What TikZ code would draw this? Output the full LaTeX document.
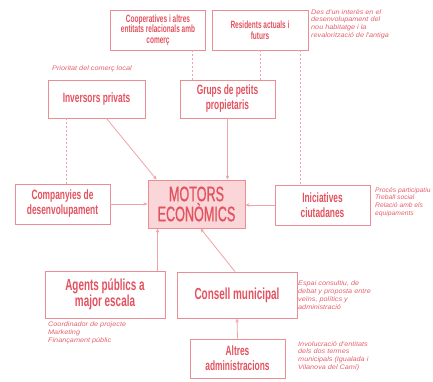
\documentclass[tikz,border=0pt]{standalone}
\usepackage{fontspec}
\setmainfont{Liberation Sans}
\newfontfamily\condf[FakeStretch=0.62]{Liberation Sans}
\newfontfamily\condm[FakeStretch=0.6,FakeBold=0.8]{Liberation Sans}
\newfontfamily\notef[FakeStretch=1.1]{Liberation Sans}
\newfontfamily\notes[FakeStretch=1.02]{Liberation Sans}
\usetikzlibrary{arrows.meta,calc}
\definecolor{boxline}{HTML}{EB8E94}
\definecolor{boxtext}{HTML}{E2525F}
\definecolor{linkc}{HTML}{F0A3A8}
\definecolor{notec}{HTML}{E4606C}
\definecolor{motorfill}{HTML}{FAD6D8}
\begin{document}
\begin{tikzpicture}[x=1pt,y=-1pt,
  box/.style={draw=boxline,line width=0.9pt,text=boxtext,align=center,inner sep=1pt,font=\condf\bfseries},
  smallbox/.style={box,font=\condf\bfseries\fontsize{10.5}{10.5}\selectfont},
  midbox/.style={box,font=\condf\bfseries\fontsize{13.5}{15}\selectfont},
  bigbox/.style={box,font=\condf\bfseries\fontsize{16}{16.5}\selectfont},
  note/.style={text=notec,align=left,anchor=north west,inner sep=0pt,font=\notef\itshape\fontsize{6.6}{7.8}\selectfont},
  arr/.style={draw=linkc,line width=0.8pt,-{Stealth[length=4pt,width=3.5pt]}},
  dl/.style={draw=linkc,line width=0.8pt,dash pattern=on 2pt off 2pt}
]
\useasboundingbox (0,0) rectangle (433,381);
\node[smallbox,minimum width=95pt,minimum height=40pt] (coop) at (158,30) {Cooperatives i altres\\entitats relacionals amb\\comerç};
\node[smallbox,minimum width=96pt,minimum height=40pt] (resid) at (260,30) {Residents actuals i\\futurs};
\node[midbox,minimum width=97pt,minimum height=38pt] (inv) at (96.5,99) {Inversors privats};
\node[midbox,minimum width=95pt,minimum height=38pt] (grups) at (227.5,99) {Grups de petits\\propietaris};
\node[midbox,minimum width=95pt,minimum height=40pt] (comp) at (62.5,204) {Companyies de\\desenvolupament};
\node[box,fill=motorfill,minimum width=97pt,minimum height=48pt,font=\condm\fontsize{21}{20}\selectfont] (motors) at (196.5,204) {MOTORS\\ECONÒMICS};
\node[midbox,minimum width=95pt,minimum height=40pt] (inic) at (322.5,205) {Iniciatives\\ciutadanes};
\node[bigbox,minimum width=120pt,minimum height=47pt] (agents) at (105,294.5) {Agents públics a\\major escala};
\node[bigbox,minimum width=120pt,minimum height=46pt] (consell) at (237,295) {Consell municipal};
\node[midbox,minimum width=95pt,minimum height=39pt] (altres) at (237.5,358.5) {Altres\\administracions};

\node[note] (n1) at (311,9) {Des d'un interès en el\\desenvolupament del\\nou habitatge i la\\revalorització de l'antiga};
\node[note] (n2) at (52,66) {Prioritat del comerç local};
\node[note,font=\notes\itshape\fontsize{6.6}{7.8}\selectfont] (n3) at (375,187) {Procés participatiu\\Treball social\\Relació amb els\\equipaments};
\node[note] (n4) at (48,322) {Coordinador de projecte\\Marketing\\Finançament públic};
\node[note] (n5) at (298,281) {Espai consultiu, de\\debat y proposta entre\\veïns, polítics y\\administració};
\node[note] (n6) at (298,341) {Involucració d'entitats\\dels dos termes\\municipals (Igualada i\\Vilanova del Camí)};

% dashed links
\coordinate (c1) at ([xshift=-14pt]coop.south east);
\draw[dl] (c1) -- (c1 |- grups.north);
\coordinate (c2) at (resid.south);
\draw[dl] (c2) -- (c2 |- grups.north);
\coordinate (c3) at ([xshift=-8pt]resid.south east);
\draw[dl] (c3) -- (c3 |- inic.north);
\coordinate (c4) at ([xshift=19pt]inv.south west);
\draw[dl] (c4) -- (c4 |- comp.north);

% arrows
\coordinate (a1) at ([xshift=10pt]inv.south);
\coordinate (a1e) at ([xshift=9pt]motors.north west);
\draw[arr] (a1) -- (a1e);
\coordinate (a2) at (grups.south);
\draw[arr] (a2) -- (a2 |- motors.north);
\draw[arr] (comp.east) -- (comp.east -| motors.west);
\draw[arr] (inic.west) -- (inic.west -| motors.east);
\coordinate (a5) at ([xshift=10pt]motors.south west);
\draw[arr] (a5 |- agents.north) -- (a5);
\coordinate (a6) at ([xshift=4pt]motors.south);
\draw[arr] ([xshift=-2pt]consell.north) -- (a6);
\draw[arr] (altres.north) -- (consell.south);
\end{tikzpicture}
\end{document}
